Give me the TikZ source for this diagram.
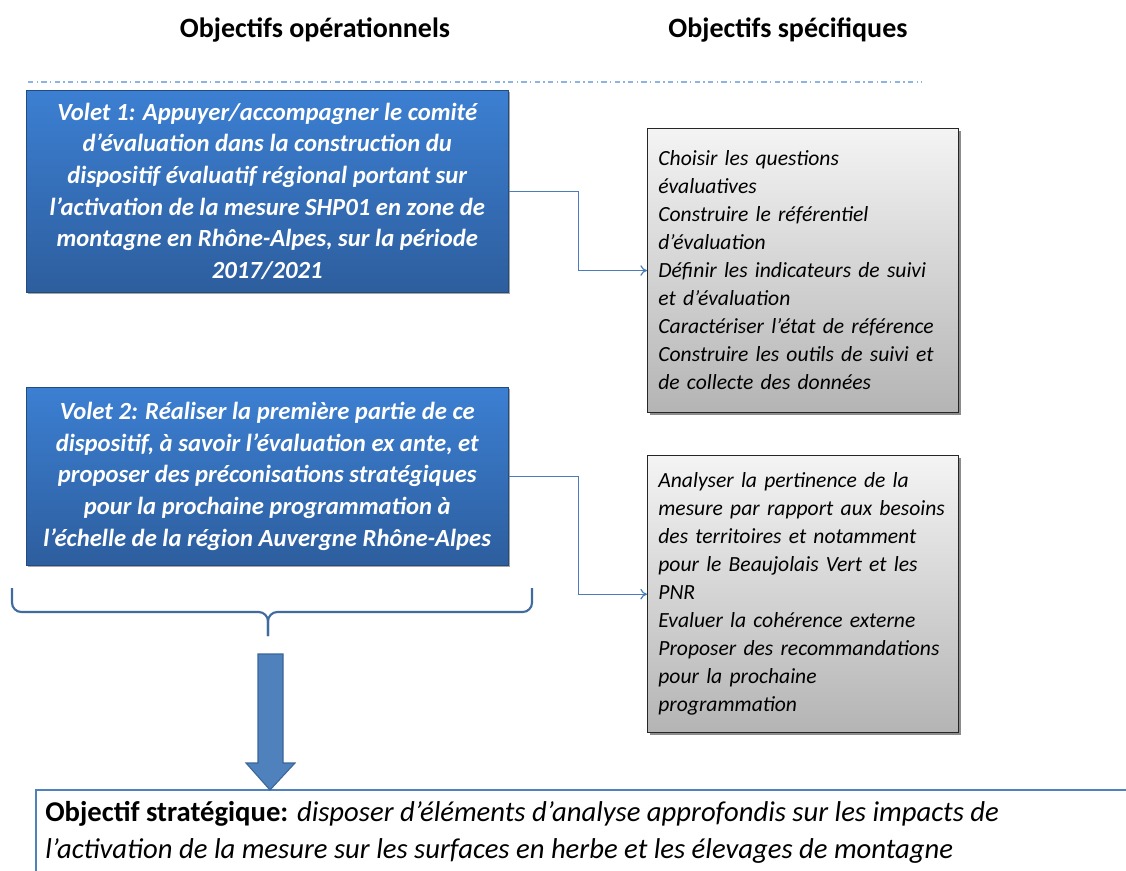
\documentclass[tikz,border=0pt]{standalone}
\usepackage{fontspec}
\setmainfont{Carlito}
\usetikzlibrary{shadows,arrows.meta}
\definecolor{bluetop}{HTML}{3C7FD2}
\definecolor{bluebot}{HTML}{2D5E9E}
\definecolor{conn}{HTML}{4A7EBB}
\definecolor{dashc}{HTML}{8EB4E3}
\definecolor{graytop}{HTML}{F4F4F4}
\definecolor{graybot}{HTML}{B4B4B4}
\definecolor{arrowfill}{HTML}{4F81BD}
\definecolor{arrowdraw}{HTML}{3A6699}
\tikzset{
  titletext/.style={font=\fontsize{21}{25}\selectfont\bfseries, inner sep=0pt},
  voletbox/.style={anchor=north west, top color=bluetop, bottom color=bluebot, draw=bluebot!80!black, line width=0.4pt,
    minimum width=361.5pt, inner sep=0pt, align=center, text=white,
    font=\fontsize{18.5}{23.7}\selectfont\bfseries\itshape,
    drop shadow={shadow xshift=1.5pt, shadow yshift=-1.5pt, opacity=0.35, fill=black}},
  graybox/.style={anchor=north west, top color=graytop, bottom color=graybot, draw=black!85, line width=0.8pt,
    minimum width=233.25pt, text width=217pt, inner xsep=8pt, align=left,
    font=\fontsize{16.2}{21}\selectfont\itshape,
    drop shadow={shadow xshift=1.5pt, shadow yshift=-1.5pt, opacity=0.45, fill=black}},
  connline/.style={draw=conn, line width=0.9pt, -{To[length=5pt,width=8pt]}},
  dashline/.style={draw=dashc, line width=0.9pt, dash pattern=on 4pt off 2.5pt on 1pt off 2.5pt},
  bracestyle/.style={draw=conn!85!black, line width=1.6pt, rounded corners=7pt},
  stratbox/.style={anchor=north west, draw=arrowfill, line width=1.6pt, fill=white, minimum width=850pt, minimum height=90pt},
}
\begin{document}
\begin{tikzpicture}[x=0.75pt,y=-0.75pt]
\useasboundingbox (0,0) rectangle (1126,870);
\clip (0,0) rectangle (1126,870);
\fill[white] (0,0) rectangle (1126,870);

% titles
\node[titletext] (t1) at (315,30) {Objectifs opérationnels};
\node[titletext] (t2) at (788,30) {Objectifs spécifiques};

% dash-dot rule
\coordinate (d1) at (28,82);
\coordinate (d2) at (922,82);
\draw[dashline] (d1) -- (d2);

% Volet boxes
\node[voletbox, minimum height=151.5pt] (v1) at (26,90)
 {Volet 1: Appuyer/accompagner le comité\\
  d’évaluation dans la construction du\\
  dispositif évaluatif régional portant sur\\
  l’activation de la mesure SHP01 en zone de\\
  montagne en Rhône-Alpes, sur la période\\
  2017/2021};
\node[voletbox, minimum height=133.5pt] (v2) at (26,387)
 {Volet 2: Réaliser la première partie de ce\\
  dispositif, à savoir l’évaluation ex ante, et\\
  proposer des préconisations stratégiques\\
  pour la prochaine programmation à\\
  l’échelle de la région Auvergne Rhône-Alpes};

% specific objectives
\node[graybox, minimum height=213pt] (g1) at (647,128)
 {Choisir les questions\\
  évaluatives\\
  Construire le référentiel\\
  d’évaluation\\
  Définir les indicateurs de suivi\\
  et d’évaluation\\
  Caractériser l’état de référence\\
  Construire les outils de suivi et\\
  de collecte des données};
\node[graybox, minimum height=208pt] (g2) at (647,455)
 {Analyser la pertinence de la\\
  mesure par rapport aux besoins\\
  des territoires et notamment\\
  pour le Beaujolais Vert et les\\
  PNR\\
  Evaluer la cohérence externe\\
  Proposer des recommandations\\
  pour la prochaine\\
  programmation};

% connectors
\draw[connline] (v1.east) -- ++(70,0) |- (g1.west);
\draw[connline] (v2.east) -- ++(70,0) |- (g2.west);

% brace
\coordinate (bl) at (12,588);
\coordinate (br) at (532,588);
\coordinate (bt) at (268,636);
\draw[bracestyle] (bl) -- (12,612) -- (268,612) -- (bt);
\draw[bracestyle] (br) -- (532,612) -- (268,612) -- (bt);

% strategic objective box (extends past the right edge)
\node[stratbox] (s) at (35,789) {};
\node[anchor=north west, inner sep=0pt, align=left, font=\fontsize{21.5}{27.75}\selectfont] (st) at (45,801)
 {\textbf{Objectif stratégique:} \textit{disposer d’éléments d’analyse approfondis sur les impacts de}\\
  \textit{l’activation de la mesure sur les surfaces en herbe et les élevages de montagne}};

% block arrow
\coordinate (atip) at (270,790);
\filldraw[fill=arrowfill, draw=arrowdraw, line width=0.8pt]
  (258,654) -- (283,654) -- (283,763) -- (295,763) -- (atip) -- (246,763) -- (258,763) -- cycle;
\end{tikzpicture}
\end{document}
